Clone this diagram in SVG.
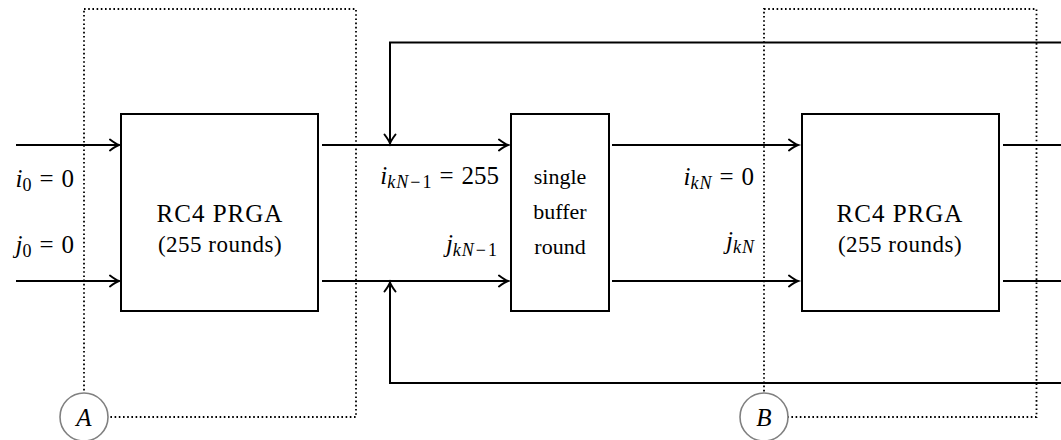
<svg xmlns="http://www.w3.org/2000/svg" width="1061" height="440" viewBox="0 0 1061 440">
<style>
.box{fill:#fff;stroke:#000;stroke-width:2}
.dot{fill:none;stroke:#000;stroke-width:1.8;stroke-dasharray:1.6 2.6}
.ln{fill:none;stroke:#000;stroke-width:2}
.circ{fill:#fff;stroke:#808080;stroke-width:1.6}
text{font-family:"Liberation Serif","Times New Roman",serif;fill:#000}
.t{font-size:25px;letter-spacing:1px}
.r{font-size:23px;letter-spacing:0.5px}
.s{font-size:22px}
.m{font-size:25px}
.i{font-style:italic}
.sub{font-size:18px}
</style>
<defs>
<marker id="arr" markerUnits="userSpaceOnUse" markerWidth="16" markerHeight="16" viewBox="-12 -8 16 16" refX="0" refY="0" orient="auto">
<path d="M -9 -5.5 Q -3 -1 0 0 Q -3 1 -9 5.5" fill="none" stroke="#000" stroke-width="2" stroke-linecap="round"/>
</marker>
</defs>
<g id="regionA">
<rect class="dot" x="84" y="9" width="272" height="408"/>
</g>
<g id="regionB">
<rect class="dot" x="764" y="9" width="272.5" height="408"/>
</g>
<g id="connectors">
<path class="ln" d="M16 145 H119" marker-end="url(#arr)"/>
<path class="ln" d="M16 281 H119" marker-end="url(#arr)"/>
<path class="ln" d="M322 145 H508" marker-end="url(#arr)"/>
<path class="ln" d="M322 281 H508" marker-end="url(#arr)"/>
<path class="ln" d="M612 145 H798" marker-end="url(#arr)"/>
<path class="ln" d="M612 281 H798" marker-end="url(#arr)"/>
<path class="ln" d="M1003 145 H1061"/>
<path class="ln" d="M1003 281 H1061"/>
<path class="ln" d="M1061 42.5 H390 V143.5" marker-end="url(#arr)"/>
<path class="ln" d="M1061 383 H390 V282.5" marker-end="url(#arr)"/>
</g>
<g id="prgaA">
<rect class="box" x="121" y="114" width="197" height="197"/>
<text class="t" x="220" y="222" text-anchor="middle">RC4 PRGA</text>
<text class="r" x="220" y="252" text-anchor="middle">(255 rounds)</text>
</g>
<g id="buffer">
<rect class="box" x="511" y="114" width="98" height="197"/>
<text class="s" x="560" y="184" text-anchor="middle">single</text>
<text class="s" x="560" y="219" text-anchor="middle">buffer</text>
<text class="s" x="560" y="254" text-anchor="middle">round</text>
</g>
<g id="prgaB">
<rect class="box" x="802" y="114" width="197" height="197"/>
<text class="t" x="900" y="222" text-anchor="middle">RC4 PRGA</text>
<text class="r" x="900" y="252" text-anchor="middle">(255 rounds)</text>
</g>
<g id="labels">
<text class="m" x="74" y="187" text-anchor="end"><tspan class="i">i</tspan><tspan class="sub" dy="4">0</tspan><tspan dy="-4" dx="8">=</tspan><tspan dx="8">0</tspan></text>
<text class="m" x="74" y="253" text-anchor="end"><tspan class="i">j</tspan><tspan class="sub" dy="4">0</tspan><tspan dy="-4" dx="8">=</tspan><tspan dx="8">0</tspan></text>
<text class="m" x="499" y="184" text-anchor="end"><tspan class="i">i</tspan><tspan class="sub" dy="4"><tspan class="i">k</tspan><tspan class="i" dx="1">N</tspan><tspan dx="2">−</tspan><tspan dx="2">1</tspan></tspan><tspan dy="-4" dx="8">=</tspan><tspan dx="8">255</tspan></text>
<text class="m" x="497" y="252" text-anchor="end"><tspan class="i">j</tspan><tspan class="sub" dy="4"><tspan class="i">k</tspan><tspan class="i" dx="1">N</tspan><tspan dx="2">−</tspan><tspan dx="2">1</tspan></tspan></text>
<text class="m" x="754" y="185" text-anchor="end"><tspan class="i">i</tspan><tspan class="sub i" dy="4">k</tspan><tspan class="sub i" dx="1">N</tspan><tspan dy="-4" dx="8">=</tspan><tspan dx="8">0</tspan></text>
<text class="m" x="754" y="249" text-anchor="end"><tspan class="i">j</tspan><tspan class="sub i" dy="4">k</tspan><tspan class="sub i" dx="1">N</tspan></text>
</g>
<g id="circleA">
<circle class="circ" cx="84" cy="417" r="24"/>
<text class="m i" x="84" y="426" text-anchor="middle">A</text>
</g>
<g id="circleB">
<circle class="circ" cx="764" cy="417" r="24"/>
<text class="m i" x="764" y="426" text-anchor="middle">B</text>
</g>
</svg>
